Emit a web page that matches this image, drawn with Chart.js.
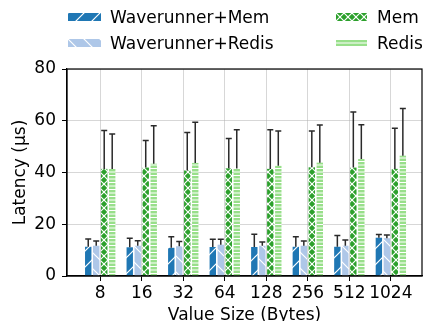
<!DOCTYPE html>
<html>
<head>
<meta charset="utf-8">
<script src="https://cdn.jsdelivr.net/npm/chart.js@4.4.1/dist/chart.umd.min.js"></script>
<style>
	html, body { margin: 0; padding: 0; width: 425px; height: 321px; overflow: hidden; background: #fff; }
	#wrap { position: relative; width: 425px; height: 326px; }
	#chart { position: absolute; left: 0; top: 0; }
	.lg { position: absolute; font-family: "DejaVu Sans", sans-serif; font-size: 17px; color: #000; line-height: 20px; white-space: nowrap; }
	.sw { position: absolute; }
</style>
</head>
<body>
<div id="wrap">
	<canvas id="chart" width="425" height="326"></canvas>
</div>
<script>
// value size categories
var sizes = ["8", "16", "32", "64", "128", "256", "512", "1024"];

// mean latency (us)
var wrMem = [11.3, 11.1, 10.9, 11.2, 11.2, 11.3, 11.3, 14.8];
var wrRedis = [11.7, 11.7, 11.5, 12.1, 11.7, 11.7, 11.7, 14.6];
var mem = [41.4, 41.9, 40.8, 41.6, 41.4, 42.0, 41.9, 41.4];
var redis = [41.4, 43.4, 43.7, 41.5, 42.6, 43.8, 45.2, 46.5];

// upper error (us)
var wrMemErr = [3.0, 3.5, 4.3, 3.0, 4.9, 3.9, 4.4, 1.2];
var wrRedisErr = [1.8, 1.9, 1.8, 2.1, 1.4, 1.8, 2.2, 1.2];
var memErr = [14.8, 10.5, 14.7, 11.5, 15.1, 14.0, 21.5, 15.7];
var redisErr = [13.5, 14.7, 15.7, 15.0, 13.4, 14.6, 13.3, 18.2];

var yTicks = [0, 20, 40, 60, 80];

// hatch tiles like matplotlib's
function makeTile(bg, kind) {
	var c = document.createElement("canvas");
	var s = kind == "-" ? 7 : (kind == "x" ? 8 : 16);
	c.width = s;
	c.height = s;
	var g = c.getContext("2d");
	g.fillStyle = bg;
	g.fillRect(0, 0, s, s);
	g.strokeStyle = "#fff";
	g.fillStyle = "#fff";
	g.lineWidth = 1.2;
	function ln(x1, y1, x2, y2) {
		g.beginPath();
		g.moveTo(x1, y1);
		g.lineTo(x2, y2);
		g.stroke();
	}
	if (kind == "/" || kind == "x") {
		ln(-1, s + 1, s + 1, -1);
		ln(-1, 1, 1, -1);
		ln(s - 1, s + 1, s + 1, s - 1);
	}
	if (kind == "\\" || kind == "x") {
		ln(-1, -1, s + 1, s + 1);
		ln(s - 1, -1, s + 1, 1);
		ln(-1, s - 1, 1, s + 1);
	}
	if (kind == "-") {
		g.fillRect(0, 0, s, 1);
		g.fillRect(0, 3.5, s, 1);
	}
	return c;
}

var series = [
	{ label: "Waverunner+Mem", data: wrMem, err: wrMemErr, color: "#1f77b4", hatch: "/" },
	{ label: "Waverunner+Redis", data: wrRedis, err: wrRedisErr, color: "#aec7e8", hatch: "\\" },
	{ label: "Mem", data: mem, err: memErr, color: "#2ca02c", hatch: "x" },
	{ label: "Redis", data: redis, err: redisErr, color: "#98df8a", hatch: "-" }
];

var ctx = document.getElementById("chart").getContext("2d");

var datasets = series.map(function(s) {
	return {
		label: s.label,
		data: s.data.map(function(v, i) { return { x: i, y: v }; }),
		backgroundColor: ctx.createPattern(makeTile(s.color, s.hatch), "repeat"),
		borderWidth: 0,
		categoryPercentage: 0.77,
		barPercentage: 0.8
	};
});

// upper error bars with caps
var errorBars = {
	id: "errorBars",
	afterDatasetsDraw: function(chart) {
		var c = chart.ctx;
		var y = chart.scales.y;
		c.save();
		c.strokeStyle = "#2a2a2a";
		c.lineWidth = 1.5;
		series.forEach(function(s, di) {
			var meta = chart.getDatasetMeta(di);
			meta.data.forEach(function(bar, i) {
				var top = y.getPixelForValue(s.data[i] + s.err[i]);
				c.beginPath();
				c.moveTo(bar.x, bar.y);
				c.lineTo(bar.x, top);
				c.moveTo(bar.x - 3, top);
				c.lineTo(bar.x + 3, top);
				c.stroke();
			});
		});
		c.restore();
	}
};

// box around the plot
var frame = {
	id: "frame",
	afterDraw: function(chart) {
		var a = chart.chartArea;
		var c = chart.ctx;
		c.save();
		c.strokeStyle = "#000";
		c.lineWidth = 1.2;
		c.strokeRect(a.left, a.top, a.right - a.left, a.bottom - a.top);
		c.restore();
	}
};

var font = { family: "DejaVu Sans", size: 17 };

var chart = new Chart(ctx, {
	type: "bar",
	data: { datasets: datasets },
	options: {
		responsive: false,
		animation: false,
		devicePixelRatio: 1,
		layout: { padding: { top: 69, right: 3, left: 0, bottom: 0 } },
		plugins: {
			legend: { display: false },
			tooltip: { enabled: false }
		},
		scales: {
			x: {
				type: "linear",
				offset: false,
				min: -0.8,
				max: 7.75,
				afterBuildTicks: function(scale) {
					scale.ticks = sizes.map(function(_, i) { return { value: i }; });
				},
				afterFit: function(scale) { scale.height = 50; },
				ticks: {
					autoSkip: false,
					maxRotation: 0,
					padding: 2,
					color: "#000",
					font: font,
					callback: function(v) { return sizes[v]; }
				},
				grid: { offset: false, color: "rgba(176,176,176,0.5)", tickColor: "#000", tickLength: 5 },
				border: { color: "#000", width: 1.2 },
				title: { display: true, text: "Value Size (Bytes)", color: "#000", font: font, padding: 0 }
			},
			y: {
				min: 0,
				max: 80,
				afterBuildTicks: function(scale) {
					scale.ticks = yTicks.map(function(v) { return { value: v }; });
				},
				afterFit: function(scale) { scale.width = 67; },
				ticks: { padding: 6, color: "#000", font: font },
				grid: { color: "rgba(176,176,176,0.5)", tickColor: "#000", tickLength: 5 },
				border: { color: "#000", width: 1.2 },
				title: { display: true, text: "Latency (μs)", color: "#000", font: font, padding: 10 }
			}
		}
	},
	plugins: [errorBars, frame]
});

// legend, two columns like the original
var legendPos = [
	{ sx: 68, sw: 33, tx: 110, cy: 17 },
	{ sx: 68, sw: 33, tx: 110, cy: 43 },
	{ sx: 336, sw: 31, tx: 377, cy: 17 },
	{ sx: 336, sw: 31, tx: 377, cy: 43 }
];
var wrap = document.getElementById("wrap");
series.forEach(function(s, i) {
	var p = legendPos[i];
	var sw = document.createElement("canvas");
	sw.className = "sw";
	sw.width = p.sw;
	sw.height = 8;
	sw.style.left = p.sx + "px";
	sw.style.top = (p.cy - 4) + "px";
	var g = sw.getContext("2d");
	g.fillStyle = g.createPattern(makeTile(s.color, s.hatch), "repeat");
	g.fillRect(0, 0, p.sw, 8);
	wrap.appendChild(sw);
	var t = document.createElement("div");
	t.className = "lg";
	t.textContent = s.label;
	t.style.left = p.tx + "px";
	t.style.top = (p.cy - 10) + "px";
	wrap.appendChild(t);
});
</script>
</body>
</html>
